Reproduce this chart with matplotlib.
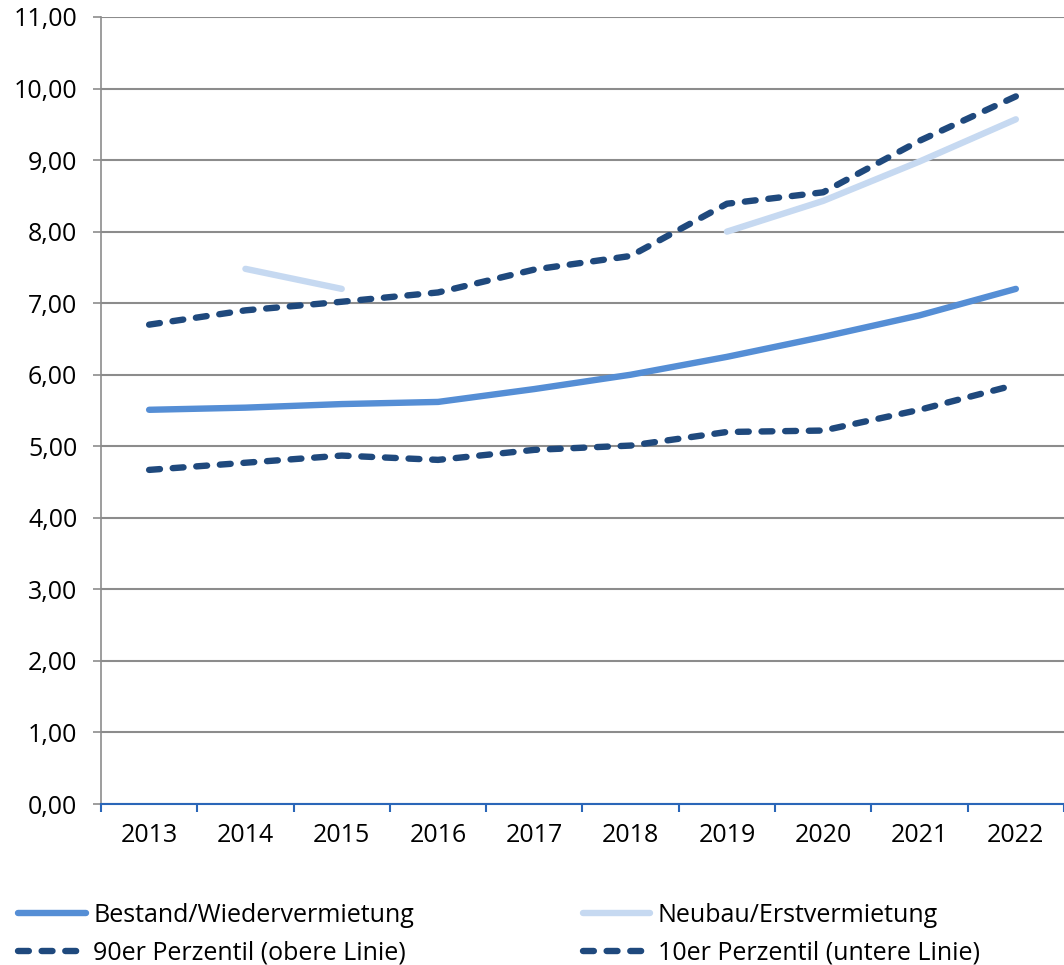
import numpy as np
import matplotlib
matplotlib.use("Agg")
import matplotlib.pyplot as plt
from matplotlib.ticker import FuncFormatter, MultipleLocator, FixedLocator

plt.rcParams['font.family'] = ['Open Sans', 'DejaVu Sans']

years = ['2013', '2014', '2015', '2016', '2017', '2018', '2019', '2020', '2021', '2022']
bestand = [5.51, 5.54, 5.59, 5.62, 5.80, 6.00, 6.25, 6.53, 6.83, 7.20]
neubau = [np.nan, 7.48, 7.20, np.nan, np.nan, np.nan, 8.00, 8.43, 8.98, 9.57]
p90 = [6.70, 6.90, 7.02, 7.15, 7.47, 7.66, 8.39, 8.55, 9.27, 9.89]
p10 = [4.67, 4.77, 4.87, 4.81, 4.95, 5.01, 5.20, 5.22, 5.51, 5.86]

c_bestand = '#558ED5'
c_neubau = '#C6D9F1'
c_perz = '#1F497D'
c_grid = '#8C8C8C'
c_xaxis = '#2A66B8'

fig = plt.figure(figsize=(10.64, 9.65), dpi=100)
ax = fig.add_axes([0.0949, 0.1668, 0.9051, 0.8156])

x = np.arange(len(years))
lw = 4.6
dash = (1.7, 2.0)
ax.plot(x, bestand, color=c_bestand, lw=lw, solid_capstyle='round', zorder=3,
        label='Bestand/Wiedervermietung')
ax.plot(x, neubau, color=c_neubau, lw=lw, solid_capstyle='round', zorder=3,
        label='Neubau/Erstvermietung')
ax.plot(x, p90, color=c_perz, lw=lw, dashes=dash, dash_capstyle='round', zorder=4,
        label='90er Perzentil (obere Linie)')
ax.plot(x, p10, color=c_perz, lw=lw, dashes=dash, dash_capstyle='round', zorder=4,
        label='10er Perzentil (untere Linie)')

ax.set_ylim(0, 11)
ax.set_xlim(-0.5, len(years) - 0.5)
ax.yaxis.set_major_locator(MultipleLocator(1))
ax.yaxis.set_major_formatter(FuncFormatter(lambda v, p: f'{v:.2f}'.replace('.', ',')))
ax.grid(axis='y', color=c_grid, lw=1.5, zorder=1)
ax.set_axisbelow(True)

ax.set_xticks(x)
ax.set_xticklabels(years)
ax.xaxis.set_minor_locator(FixedLocator(np.arange(-0.5, len(years), 1)))
ax.tick_params(axis='x', which='major', length=0, pad=14, labelsize=18)
ax.tick_params(axis='x', which='minor', length=6, width=1.5, color=c_xaxis)
ax.tick_params(axis='y', length=6, width=1.2, color=c_grid, pad=11, labelsize=18)

for s in ['top', 'right']:
    ax.spines[s].set_visible(False)
ax.spines['left'].set_color(c_grid)
ax.spines['left'].set_linewidth(1.2)
ax.spines['bottom'].set_color(c_xaxis)
ax.spines['bottom'].set_linewidth(1.5)
ax.spines['bottom'].set_zorder(5)

h, l = ax.get_legend_handles_labels()
order = [0, 2, 1, 3]
fig.legend([h[i] for i in order], [l[i] for i in order], ncol=2, loc='lower left',
           bbox_to_anchor=(-0.004, -0.024), frameon=False, fontsize=18,
           handlelength=2.7, handletextpad=0.3, columnspacing=6.75, labelspacing=0.5)

fig.savefig('out.png', dpi=100)
